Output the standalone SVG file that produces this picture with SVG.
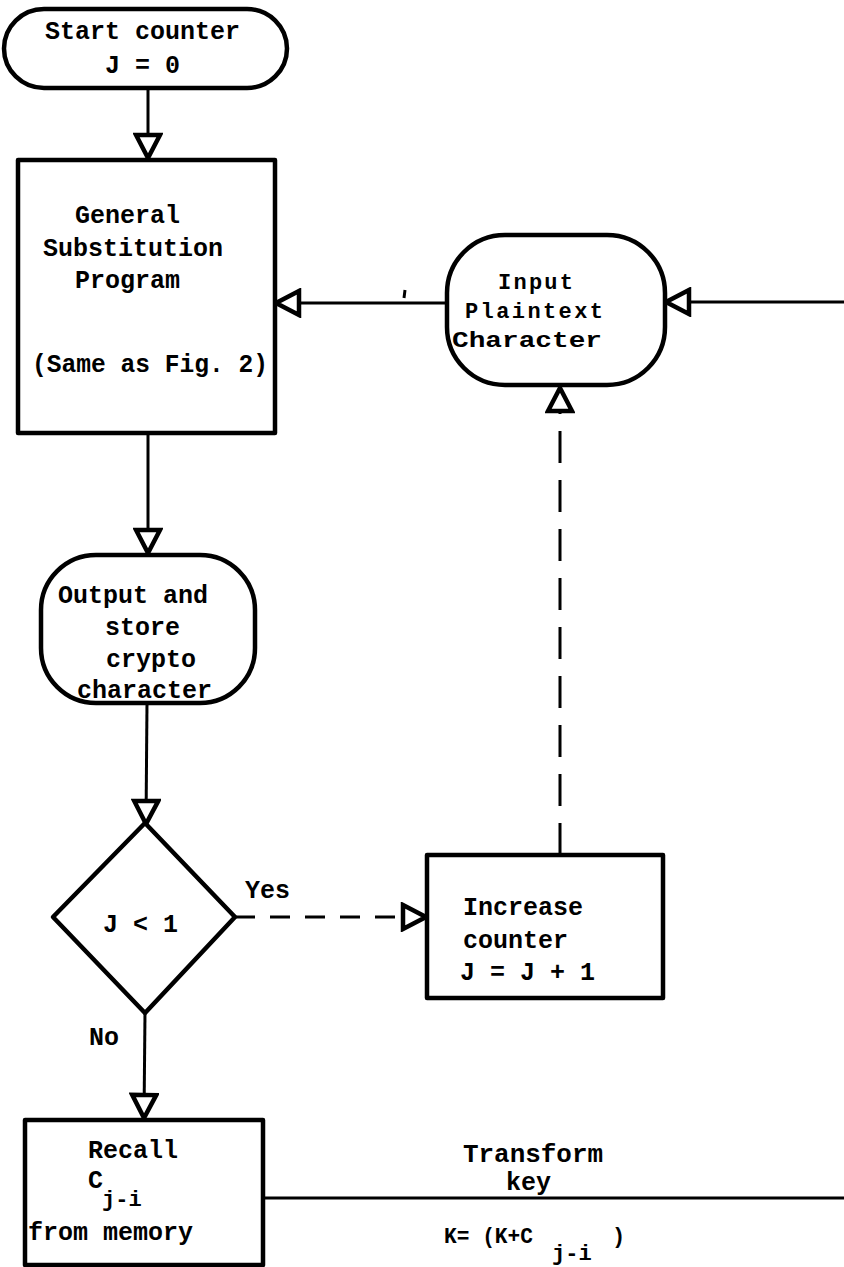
<svg xmlns="http://www.w3.org/2000/svg" width="844" height="1267" viewBox="0 0 844 1267">
  <style>
    .box { fill: #fff; stroke: #000; stroke-width: 4.5; stroke-linejoin: round; }
    .conn { fill: none; stroke: #000; stroke-width: 3; }
    .dash1 { stroke-dasharray: 20 15; }
    .dash2 { stroke-dasharray: 32 17; }
    text { font-family: "Liberation Mono", "DejaVu Sans Mono", monospace; font-size: 25px; font-weight: bold; fill: #000; }
    .sm { font-size: 22px; }
  </style>
  <defs>
    <marker id="tri" viewBox="0 0 30 30" refX="27" refY="15" markerWidth="30" markerHeight="30" markerUnits="userSpaceOnUse" orient="auto">
      <path d="M4,3 L27,15 L4,27 Z" fill="#fff" stroke="#000" stroke-width="4.5" stroke-dasharray="none" stroke-linejoin="miter"/>
    </marker>
  </defs>

  <!-- connectors -->
  <g id="connectors">
    <path class="conn" d="M148,88 L148,158" marker-end="url(#tri)"/>
    <path class="conn" d="M148,433 L148,553" marker-end="url(#tri)"/>
    <path class="conn" d="M147,703 L146,824" marker-end="url(#tri)"/>
    <path class="conn" d="M145,1013 L144,1118" marker-end="url(#tri)"/>
    <path class="conn dash1" d="M235,917 L426,917" marker-end="url(#tri)"/>
    <path class="conn dash2" d="M560,855 L560,388" marker-end="url(#tri)"/>
    <path class="conn" d="M447,303 L276,303" marker-end="url(#tri)"/>
    <path class="conn" d="M844,302 L666,302" marker-end="url(#tri)"/>
    <path class="conn" d="M263,1198 L844,1198"/>
    <path class="conn" d="M405,290 L404,298"/>
  </g>

  <!-- start terminal -->
  <g id="start">
    <rect class="box" x="4" y="9" width="283" height="79" rx="40" ry="40"/>
    <text x="45" y="39">Start counter</text>
    <text x="105" y="73">J = 0</text>
  </g>

  <!-- substitution process -->
  <g id="general">
    <rect class="box" x="18" y="160" width="257" height="273"/>
    <text x="75" y="223">General</text>
    <text x="43" y="256">Substitution</text>
    <text x="75" y="288">Program</text>
    <text x="32" y="372" textLength="236" lengthAdjust="spacingAndGlyphs">(Same as Fig. 2)</text>
  </g>

  <!-- input terminal -->
  <g id="input">
    <rect class="box" x="447" y="235" width="218" height="150" rx="58" ry="58"/>
    <text class="sm" x="498" y="289" textLength="75">Input</text>
    <text class="sm" x="465" y="318" textLength="138">Plaintext</text>
    <text class="sm" x="452" y="347" textLength="150" lengthAdjust="spacingAndGlyphs">Character</text>
  </g>

  <!-- output terminal -->
  <g id="output">
    <rect class="box" x="41" y="555" width="214" height="148" rx="55" ry="55"/>
    <text x="58" y="603">Output and</text>
    <text x="105" y="635">store</text>
    <text x="106" y="667">crypto</text>
    <text x="77" y="698">character</text>
  </g>

  <!-- decision -->
  <g id="decision">
    <path class="box" d="M145,823 L235,917 L145,1013 L53,917 Z"/>
    <text x="103" y="932">J &lt; 1</text>
    <text x="245" y="898">Yes</text>
    <text x="89" y="1045">No</text>
  </g>

  <!-- counter increment -->
  <g id="increase">
    <rect class="box" x="427" y="855" width="236" height="143"/>
    <text x="463" y="915">Increase</text>
    <text x="463" y="948">counter</text>
    <text x="460" y="980">J = J + 1</text>
  </g>

  <!-- recall from memory -->
  <g id="recall">
    <rect class="box" x="25" y="1120" width="238" height="145"/>
    <text x="88" y="1158">Recall</text>
    <text x="88" y="1188">C<tspan class="sm" x="102" y="1206">j-i</tspan></text>
    <text x="28" y="1240">from memory</text>
  </g>

  <!-- key transform label -->
  <g id="transform">
    <text x="463" y="1162" textLength="140" lengthAdjust="spacingAndGlyphs">Transform</text>
    <text x="506" y="1190">key</text>
    <text class="sm" x="444" y="1243" textLength="89" lengthAdjust="spacingAndGlyphs">K= (K+C</text>
    <text class="sm" x="552" y="1260">j-i</text>
    <text class="sm" x="612" y="1243">)</text>
  </g>
</svg>
